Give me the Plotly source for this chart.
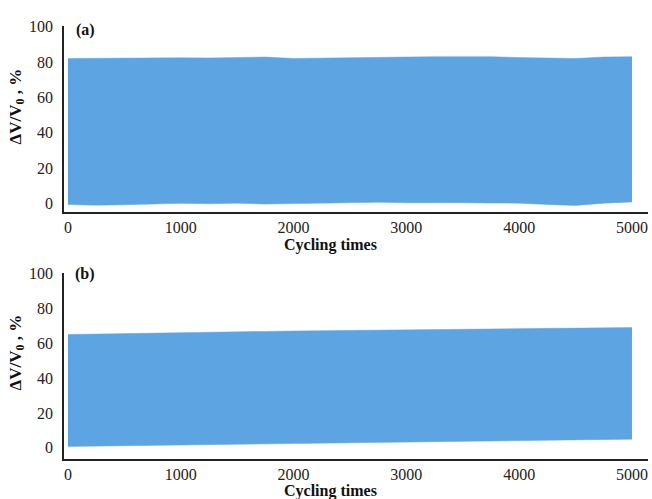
import plotly.graph_objects as go

cycles = [0, 250, 500, 750, 1000, 1250, 1500, 1750, 2000, 2250, 2500,
          2750, 3000, 3250, 3500, 3750, 4000, 4250, 4500, 4750, 5000]

a_upper = [82.0, 82.2, 82.0, 82.6, 82.4, 82.3, 82.5, 82.8, 82.0, 82.3, 82.5,
           82.6, 82.8, 83.0, 83.2, 83.0, 82.5, 82.3, 82.0, 82.8, 83.0]
a_lower = [-0.5, -0.8, -0.6, -0.3, 0.2, 0.0, 0.3, -0.2, 0.0, 0.5, 0.6,
           0.8, 0.5, 0.7, 0.6, 0.4, 0.3, -0.4, -1.0, 0.3, 1.0]

b_upper = [65.0, 65.2, 65.5, 65.6, 65.8, 66.2, 66.5, 66.8, 67.0, 67.2, 67.3,
           67.5, 67.6, 67.8, 68.0, 68.2, 68.3, 68.5, 68.6, 68.8, 69.0]
b_lower = [0.8, 1.0, 1.2, 1.5, 1.8, 2.0, 2.2, 2.5, 2.8, 3.0, 3.0,
           3.3, 3.5, 3.6, 3.8, 4.0, 4.3, 4.5, 4.6, 4.8, 5.0]

y_ticks = [0, 20, 40, 60, 80, 100]
x_ticks = [0, 1000, 2000, 3000, 4000, 5000]
panel_labels = ["(a)", "(b)"]
x_title = "Cycling times"
y_title = "ΔV/V<sub>0</sub> , %"

BLUE = "#5da4e3"
FONT = "Liberation Serif"
W, H = 652, 499

fig = go.Figure()
panels = [(a_lower, a_upper, "x", "y"), (b_lower, b_upper, "x2", "y2")]
for lo, up, xa, ya in panels:
    fig.add_trace(go.Scatter(x=cycles, y=lo, mode="lines", xaxis=xa, yaxis=ya,
                             line=dict(color=BLUE, width=0.5), showlegend=False))
    fig.add_trace(go.Scatter(x=cycles, y=up, mode="lines", xaxis=xa, yaxis=ya,
                             fill="tonexty", fillcolor=BLUE,
                             line=dict(color=BLUE, width=0.5), showlegend=False))

def px_x(p):
    return p / W

def px_y(p):
    return 1 - p / H

xdom = [px_x(64), px_x(648)]
common_x = dict(range=[-35, 5142], tickvals=x_ticks, showgrid=False, zeroline=False,
                showline=True, linecolor="#222", linewidth=1.5, ticks="",
                ticklabelstandoff=0, tickfont=dict(family=FONT, size=16, color="#222"))
common_y = dict(tickvals=y_ticks, showgrid=False, zeroline=False,
                showline=True, linecolor="#222", linewidth=1.5, ticks="",
                ticklabelstandoff=6, tickfont=dict(family=FONT, size=16, color="#222"))

fig.update_layout(
    width=W, height=H, margin=dict(l=0, r=0, t=0, b=0),
    paper_bgcolor="white", plot_bgcolor="white",
    xaxis=dict(domain=xdom, anchor="y", **common_x),
    yaxis=dict(domain=[px_y(207), px_y(18)], anchor="x", range=[-4.5, 100.5], **common_y),
    xaxis2=dict(domain=xdom, anchor="y2", **common_x),
    yaxis2=dict(domain=[px_y(458), px_y(269)], anchor="x2", range=[-6.2, 100.5], **common_y),
)

ann_font = dict(family=FONT, size=16, color="#111")
annotations = []
for label, ly, ty, xy in zip(panel_labels, [22, 270], [100, 350], [241, 491]):
    annotations.append(dict(text="<b>" + label + "</b>", x=px_x(85), y=px_y(ly),
                            xref="paper", yref="paper", showarrow=False, font=ann_font,
                            xanchor="center", yanchor="middle"))
    annotations.append(dict(text="<b>" + y_title + "</b>", x=px_x(17), y=px_y(ty),
                            xref="paper", yref="paper", showarrow=False, textangle=-90,
                            font=dict(family=FONT, size=17, color="#111"),
                            xanchor="center", yanchor="middle"))
    annotations.append(dict(text="<b>" + x_title + "</b>", x=px_x(330), y=px_y(xy),
                            xref="paper", yref="paper", showarrow=False, font=ann_font,
                            xanchor="center", yanchor="middle"))
fig.update_layout(annotations=annotations)

fig.write_html("out.html")
